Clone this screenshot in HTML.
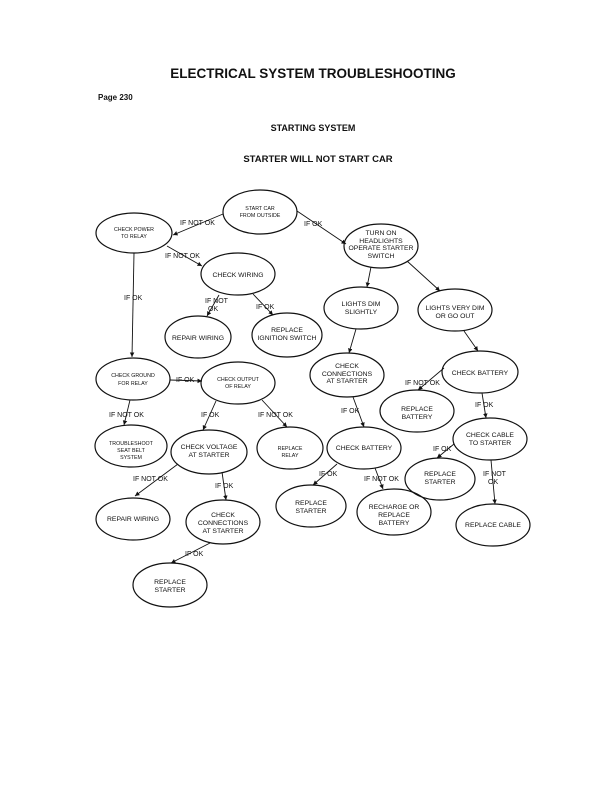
<!DOCTYPE html>
<html><head><meta charset="utf-8"><style>
html,body{margin:0;padding:0;background:#fff;}
svg{display:block;}
text{font-family:"Liberation Sans",sans-serif;fill:#111;}
.t{font-size:6.8px;text-anchor:middle;}
.s{font-size:5.3px;text-anchor:middle;}
.l{font-size:7px;}
ellipse{fill:none;stroke:#111;stroke-width:1.2;}
line{stroke:#111;stroke-width:0.9;marker-end:url(#a);}
</style></head><body>
<svg width="612" height="791" viewBox="0 0 612 791" xmlns="http://www.w3.org/2000/svg">
<defs><marker id="a" markerWidth="6" markerHeight="6" refX="5" refY="3" orient="auto"><path d="M0,0.5 L5,3 L0,5.5" fill="#111"/></marker></defs>
<text x="313" y="78" style="font-size:13.5px;font-weight:900;text-anchor:middle">ELECTRICAL SYSTEM TROUBLESHOOTING</text>
<text x="98" y="100" style="font-size:8px;font-weight:bold">Page  230</text>
<text x="313" y="131" style="font-size:9px;font-weight:bold;text-anchor:middle">STARTING SYSTEM</text>
<text x="318" y="162" style="font-size:9.5px;font-weight:bold;text-anchor:middle">STARTER WILL NOT START CAR</text>

<ellipse cx="260" cy="212" rx="37" ry="22"/><text class="s" x="260" y="210">START CAR</text><text class="s" x="260" y="217">FROM OUTSIDE</text>
<ellipse cx="134" cy="233" rx="38" ry="20"/><text class="s" x="134" y="231">CHECK POWER</text><text class="s" x="134" y="238">TO RELAY</text>
<ellipse cx="238" cy="274" rx="37" ry="21"/><text class="t" x="238" y="277">CHECK WIRING</text>
<ellipse cx="198" cy="337" rx="33" ry="21"/><text class="t" x="198" y="340">REPAIR WIRING</text>
<ellipse cx="287" cy="335" rx="35" ry="22"/><text class="t" x="287" y="332">REPLACE</text><text class="t" x="287" y="340">IGNITION SWITCH</text>
<ellipse cx="381" cy="246" rx="37" ry="22"/><text class="t" x="381" y="235">TURN ON</text><text class="t" x="381" y="243">HEADLIGHTS</text><text class="t" x="381" y="250">OPERATE STARTER</text><text class="t" x="381" y="258">SWITCH</text>
<ellipse cx="361" cy="308" rx="37" ry="21"/><text class="t" x="361" y="306">LIGHTS DIM</text><text class="t" x="361" y="314">SLIGHTLY</text>
<ellipse cx="455" cy="310" rx="37" ry="21"/><text class="t" x="455" y="310">LIGHTS VERY DIM</text><text class="t" x="455" y="318">OR GO OUT</text>
<ellipse cx="347" cy="375" rx="37" ry="22"/><text class="t" x="347" y="368">CHECK</text><text class="t" x="347" y="376">CONNECTIONS</text><text class="t" x="347" y="383">AT STARTER</text>
<ellipse cx="480" cy="372" rx="38" ry="21"/><text class="t" x="480" y="375">CHECK BATTERY</text>
<ellipse cx="133" cy="379" rx="37" ry="21"/><text class="s" x="133" y="377">CHECK GROUND</text><text class="s" x="133" y="385">FOR RELAY</text>
<ellipse cx="238" cy="383" rx="37" ry="21"/><text class="s" x="238" y="381">CHECK OUTPUT</text><text class="s" x="238" y="388">OF RELAY</text>
<ellipse cx="417" cy="411" rx="37" ry="21"/><text class="t" x="417" y="411">REPLACE</text><text class="t" x="417" y="419">BATTERY</text>
<ellipse cx="490" cy="439" rx="37" ry="21"/><text class="t" x="490" y="437">CHECK CABLE</text><text class="t" x="490" y="445">TO STARTER</text>
<ellipse cx="131" cy="446" rx="36" ry="21"/><text class="s" x="131" y="445">TROUBLESHOOT</text><text class="s" x="131" y="452">SEAT BELT</text><text class="s" x="131" y="459">SYSTEM</text>
<ellipse cx="209" cy="452" rx="38" ry="22"/><text class="t" x="209" y="449">CHECK VOLTAGE</text><text class="t" x="209" y="457">AT STARTER</text>
<ellipse cx="290" cy="448" rx="33" ry="21"/><text class="s" x="290" y="450">REPLACE</text><text class="s" x="290" y="457">RELAY</text>
<ellipse cx="364" cy="448" rx="37" ry="21"/><text class="t" x="364" y="450">CHECK BATTERY</text>
<ellipse cx="440" cy="479" rx="35" ry="21"/><text class="t" x="440" y="476">REPLACE</text><text class="t" x="440" y="484">STARTER</text>
<ellipse cx="311" cy="506" rx="35" ry="21"/><text class="t" x="311" y="505">REPLACE</text><text class="t" x="311" y="513">STARTER</text>
<ellipse cx="394" cy="512" rx="37" ry="23"/><text class="t" x="394" y="509">RECHARGE OR</text><text class="t" x="394" y="517">REPLACE</text><text class="t" x="394" y="525">BATTERY</text>
<ellipse cx="493" cy="525" rx="37" ry="21"/><text class="t" x="493" y="527">REPLACE CABLE</text>
<ellipse cx="133" cy="519" rx="37" ry="21"/><text class="t" x="133" y="521">REPAIR WIRING</text>
<ellipse cx="223" cy="522" rx="37" ry="22"/><text class="t" x="223" y="517">CHECK</text><text class="t" x="223" y="525">CONNECTIONS</text><text class="t" x="223" y="533">AT STARTER</text>
<ellipse cx="170" cy="585" rx="37" ry="22"/><text class="t" x="170" y="584">REPLACE</text><text class="t" x="170" y="592">STARTER</text>

<line x1="223" y1="214" x2="173" y2="235"/>
<line x1="297" y1="211" x2="346" y2="244"/>
<line x1="167" y1="246" x2="202" y2="266"/>
<line x1="134" y1="253" x2="132" y2="357"/>
<line x1="219" y1="295" x2="207" y2="316"/>
<line x1="253" y1="294" x2="273" y2="315"/>
<line x1="371" y1="267" x2="367" y2="287"/>
<line x1="407" y1="261" x2="440" y2="291"/>
<line x1="356" y1="329" x2="349" y2="353"/>
<line x1="464" y1="331" x2="478" y2="351"/>
<line x1="170" y1="380" x2="202" y2="381"/>
<line x1="130" y1="400" x2="124" y2="425"/>
<line x1="216" y1="401" x2="203" y2="430"/>
<line x1="262" y1="400" x2="287" y2="427"/>
<line x1="353" y1="397" x2="364" y2="427"/>
<line x1="444" y1="368" x2="418" y2="390"/>
<line x1="482" y1="393" x2="486" y2="418"/>
<line x1="178" y1="464" x2="135" y2="496"/>
<line x1="222" y1="472" x2="226" y2="500"/>
<line x1="337" y1="464" x2="313" y2="485"/>
<line x1="375" y1="468" x2="383" y2="489"/>
<line x1="454" y1="444" x2="437" y2="458"/>
<line x1="491" y1="460" x2="495" y2="504"/>
<line x1="210" y1="543" x2="171" y2="563"/>

<text class="l" x="180" y="225">IF NOT OK</text>
<text class="l" x="304" y="226">IF OK</text>
<text class="l" x="165" y="258">IF NOT OK</text>
<text class="l" x="124" y="300">IF OK</text>
<text class="l" x="205" y="303">IF NOT</text><text class="l" x="208" y="311">OK</text>
<text class="l" x="256" y="309">IF OK</text>
<text class="l" x="176" y="382">IF OK</text>
<text class="l" x="109" y="417">IF NOT OK</text>
<text class="l" x="201" y="417">IF OK</text>
<text class="l" x="258" y="417">IF NOT OK</text>
<text class="l" x="341" y="413">IF OK</text>
<text class="l" x="405" y="385">IF NOT OK</text>
<text class="l" x="475" y="407">IF OK</text>
<text class="l" x="133" y="481">IF NOT OK</text>
<text class="l" x="215" y="488">IF OK</text>
<text class="l" x="319" y="476">IF OK</text>
<text class="l" x="364" y="481">IF NOT OK</text>
<text class="l" x="433" y="451">IF OK</text>
<text class="l" x="483" y="476">IF NOT</text><text class="l" x="488" y="484">OK</text>
<text class="l" x="185" y="556">IF OK</text>
</svg>
</body></html>
